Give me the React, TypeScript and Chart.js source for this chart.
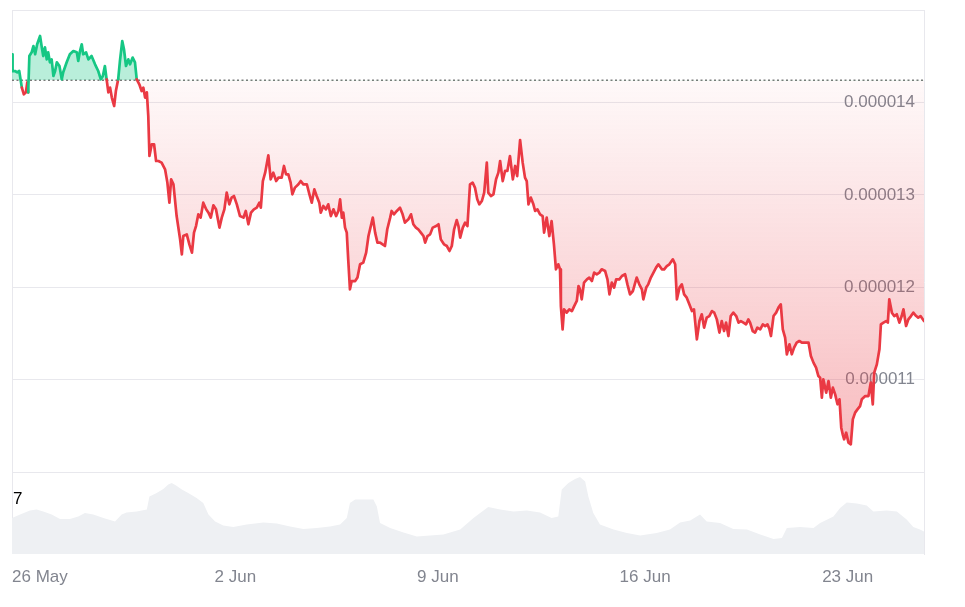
import React, { useEffect, useRef } from "react";
import { Chart, registerables } from "chart.js";

Chart.register(...registerables);

// Time axis: days since 26 May 00:00
const priceDays = [
  0.00,0.02,0.10,0.18,0.25,0.34,0.41,0.48,0.53,0.56,
  0.60,0.68,0.74,0.80,0.87,0.97,1.03,1.08,1.14,1.20,
  1.25,1.31,1.37,1.43,1.49,1.55,1.64,1.72,1.77,1.89,
  2.00,2.12,2.24,2.29,2.35,2.41,2.46,2.56,2.64,2.75,
  2.87,2.98,3.07,3.14,3.21,3.27,3.33,3.39,3.45,3.53,
  3.59,3.67,3.73,3.81,3.87,3.94,4.02,4.08,4.17,4.25,
  4.31,4.40,4.48,4.54,4.60,4.66,4.71,4.75,4.83,4.91,
  4.98,5.06,5.17,5.29,5.37,5.44,5.50,5.58,5.69,
  5.81,5.87,5.92,6.04,6.13,6.22,6.29,6.36,6.44,6.52,
  6.61,6.71,6.79,6.87,6.96,7.05,7.17,7.25,7.34,7.42,
  7.51,7.59,7.67,7.77,7.88,8.00,8.08,8.17,8.26,8.36,
  8.46,8.55,8.60,8.67,8.75,8.86,8.94,9.03,9.13,9.21,
  9.32,9.40,9.47,9.55,9.63,9.69,9.78,9.90,9.98,10.07,
  10.19,10.28,10.36,10.45,10.53,10.62,10.67,10.76,10.85,10.93,
  11.02,11.11,11.20,11.28,11.34,11.40,11.45,11.51,11.57,11.62,
  11.68,11.74,11.86,11.94,12.03,12.14,12.24,12.32,
  12.47,12.55,12.63,12.72,12.81,12.89,12.97,13.07,13.12,13.20,
  13.30,13.41,13.50,13.58,13.70,13.79,13.87,13.96,14.04,14.13,
  14.22,14.28,14.36,14.45,14.54,14.66,14.74,14.82,14.93,15.03,
  15.12,15.20,15.28,15.37,15.43,15.49,15.58,15.66,15.74,15.83,
  15.92,16.00,16.08,16.15,16.24,16.32,16.41,16.46,16.55,16.64,
  16.73,16.81,16.87,16.96,17.04,17.12,17.21,17.31,17.39,17.46,
  17.56,17.65,17.73,17.79,17.85,17.93,18.02,18.08,18.16,18.25,
  18.34,18.39,18.48,18.57,18.65,18.73,18.80,18.88,18.94,
  18.97,19.03,19.08,19.17,19.26,19.35,19.43,19.52,19.58,19.63,
  19.69,19.77,19.87,19.95,20.04,20.12,20.21,20.30,20.38,20.50,
  20.58,20.65,20.73,20.81,20.88,20.99,21.08,21.19,21.27,21.36,
  21.46,21.54,21.59,21.68,21.77,21.82,21.92,21.99,22.08,22.17,
  22.26,22.34,22.46,22.54,22.63,22.72,22.84,22.92,22.98,23.07,
  23.15,23.23,23.32,23.41,23.50,23.57,23.67,23.76,23.84,23.92,
  24.01,24.10,24.19,24.27,24.36,24.45,24.53,24.61,24.68,24.76,
  24.84,24.93,25.03,25.11,25.19,25.28,25.37,25.45,
  25.51,25.60,25.68,25.76,25.86,25.95,26.03,26.11,26.18,26.23,
  26.32,26.41,26.49,26.57,26.64,26.72,26.78,26.87,26.95,27.03,
  27.12,27.21,27.30,27.41,27.53,27.61,27.70,27.79,27.87,27.93,
  27.99,28.04,28.14,28.22,28.30,28.37,28.45,28.53,28.60,28.66,
  28.71,28.76,28.83,28.91,28.99,29.06,29.14,29.22,29.31,29.37,
  29.49,29.60,29.68,29.75,29.80,29.89,29.98,30.03,30.12,30.21,
  30.27,30.32,30.41,30.49,30.58,30.67,30.75,30.81,30.90,30.98,
  31.07,31.15,31.25,31.32,31.40,31.52,
];

// Price in units of 0.000001 USD
const priceValues = [
  14.521,14.337,14.340,14.326,14.340,14.160,14.088,14.109,14.218,14.109,
  14.502,14.542,14.610,14.521,14.629,14.719,14.596,14.502,14.596,14.466,
  14.542,14.434,14.466,14.286,14.340,14.434,14.394,14.250,14.326,14.434,
  14.521,14.556,14.542,14.448,14.556,14.629,14.521,14.542,14.466,14.502,
  14.412,14.340,14.250,14.286,14.394,14.250,14.109,14.160,14.052,13.961,
  14.123,14.250,14.448,14.664,14.575,14.394,14.466,14.412,14.485,14.434,
  14.250,14.196,14.123,14.160,14.052,14.109,13.853,13.420,13.547,13.547,
  13.366,13.366,13.348,13.276,13.132,12.915,13.168,13.114,12.770,
  12.518,12.356,12.554,12.572,12.464,12.374,12.591,12.662,12.789,12.753,
  12.915,12.843,12.807,12.753,12.886,12.843,12.645,12.753,12.843,13.024,
  12.897,12.970,12.987,12.897,12.770,12.753,12.825,12.681,12.807,12.843,
  12.861,12.915,12.861,13.149,13.240,13.427,13.168,13.240,13.149,13.186,
  13.186,13.312,13.222,13.222,13.132,13.005,13.078,13.114,13.149,13.114,
  13.114,13.005,12.915,13.059,12.987,12.915,12.807,12.879,12.843,12.897,
  12.770,12.843,12.770,12.825,12.951,12.753,12.807,12.645,12.591,12.302,
  11.977,12.067,12.067,12.104,12.248,12.266,12.374,12.554,
  12.753,12.591,12.483,12.483,12.464,12.446,12.627,12.753,12.825,12.789,
  12.825,12.861,12.789,12.699,12.735,12.789,12.681,12.645,12.627,12.591,
  12.554,12.483,12.554,12.572,12.645,12.662,12.681,12.518,12.464,12.446,
  12.392,12.446,12.627,12.727,12.662,12.537,12.645,12.699,12.662,13.114,
  13.132,13.078,12.951,12.897,12.933,13.024,13.348,13.024,12.987,13.005,
  13.168,13.240,13.366,13.149,13.258,13.258,13.420,13.168,13.312,13.203,
  13.593,13.348,13.186,13.149,12.897,12.970,12.897,12.825,12.843,12.789,
  12.770,12.591,12.753,12.554,12.716,12.464,12.194,12.248,12.194,
  11.796,11.544,11.761,11.725,11.761,11.742,11.796,11.851,12.013,11.977,
  11.869,12.050,12.085,12.104,12.067,12.158,12.140,12.158,12.194,12.175,
  12.085,11.923,12.050,11.996,12.085,12.085,12.121,12.140,12.031,11.923,
  11.959,12.050,12.104,12.031,11.977,11.869,11.996,12.031,12.104,12.158,
  12.212,12.248,12.194,12.194,12.229,12.248,12.302,12.248,11.869,11.996,
  12.031,11.923,11.887,11.815,11.742,11.761,11.436,11.634,11.707,11.563,
  11.671,11.688,11.742,11.725,11.652,11.509,11.634,11.526,11.617,11.472,
  11.688,11.725,11.688,11.617,11.634,11.617,11.598,11.652,
  11.617,11.526,11.509,11.563,11.544,11.598,11.580,11.598,11.544,11.472,
  11.688,11.725,11.779,11.815,11.544,11.454,11.274,11.382,11.274,11.346,
  11.400,11.418,11.400,11.400,11.400,11.255,11.184,11.130,11.039,11.021,
  10.805,11.003,10.859,10.985,10.805,10.913,10.841,10.733,10.787,10.480,
  10.408,10.354,10.426,10.318,10.300,10.570,10.643,10.678,10.714,10.787,
  10.822,10.822,10.967,10.733,11.076,11.165,11.328,11.598,11.617,11.634,
  11.617,11.869,11.725,11.688,11.707,11.617,11.688,11.761,11.580,11.652,
  11.688,11.725,11.688,11.671,11.688,11.634,
];

const volumeDays = [
  0,0.28,0.62,0.85,1.08,1.37,1.66,2.00,2.29,2.52,2.81,3.16,3.56,3.79,3.96,4.31,4.66,4.75,5.00,5.23,
  5.40,5.52,5.67,5.87,6.09,6.38,6.61,6.79,7.02,7.30,7.65,8.11,8.69,9.15,9.61,10.07,10.53,10.99,11.34,11.57,
  11.68,11.86,12.14,12.49,12.61,12.72,13.07,13.53,13.99,14.45,14.91,15.49,15.95,16.18,16.46,16.87,17.33,17.79,18.25,18.65,
  18.88,19.00,19.23,19.46,19.63,19.81,19.92,20.09,20.32,20.79,21.25,21.71,22.28,22.74,23.09,23.44,23.78,24.01,24.47,24.93,
  25.40,25.86,26.32,26.61,26.78,27.24,27.70,27.93,28.39,28.62,28.85,29.20,29.54,29.77,30.23,30.58,30.92,31.15,31.38,31.52,
];

// Trading volume, millions USD
const volumeValues = [
  18.0,19.7,21.8,22.2,21.3,19.7,17.5,17.5,18.8,20.5,19.7,18.0,16.3,19.7,20.8,21.3,22.2,28.8,30.5,32.5,
  34.7,35.5,34.2,32.2,30.5,28.0,25.5,19.7,16.3,14.2,13.5,14.7,15.8,15.2,13.8,12.5,13.0,13.8,14.7,18.0,
  25.5,27.2,27.2,27.2,23.8,15.5,13.0,10.8,8.8,9.2,9.7,12.2,18.0,20.5,23.5,22.2,21.3,21.8,20.8,18.0,
  18.8,32.2,35.5,37.5,38.5,36.3,28.8,20.5,14.7,12.2,10.5,9.2,10.5,12.2,15.8,16.8,19.7,16.3,15.5,12.5,
  12.2,9.7,7.5,8.0,13.0,13.5,13.0,15.5,18.8,23.0,25.8,25.2,24.2,21.3,21.8,21.3,17.2,13.5,12.2,11.3,
];

const baselinePrice = 14.239;
const xTickDays = [0, 7, 14, 21, 28];
const xTickLabels = ["26 May", "2 Jun", "9 Jun", "16 Jun", "23 Jun"];
const yTickValues = [10, 11, 12, 13, 14, 15];
const yLabelledValues = [11, 12, 13, 14];

const X_MAX = 31.52;
const Y_MIN = 9.113;
const Y_MAX = 15;
const VOLUME_AXIS_MAX = 272;

const GREEN = "#16c784";
const RED = "#ea3943";
const GRID = "#e8e8ed";
const TICK_COLOR = "#82858f";
const FONT = "'Liberation Sans', Arial, Helvetica, sans-serif";

export default function App() {
  const ref = useRef<HTMLCanvasElement>(null);

  useEffect(() => {
    const canvas = ref.current;
    if (!canvas) return;
    const chart = new Chart(canvas, {
      type: "line",
      data: {
        datasets: [
          {
            label: "Price",
            data: priceDays.map((d, i) => ({ x: d, y: priceValues[i] })),
            yAxisID: "y",
            borderColor: RED,
            borderWidth: 2.7,
            borderJoinStyle: "round",
            borderCapStyle: "round",
            pointRadius: 0,
            tension: 0,
            segment: {
              borderColor: (c: any) =>
                (c.p0.parsed.y + c.p1.parsed.y) / 2 >= baselinePrice ? GREEN : RED,
            },
            fill: { value: baselinePrice, above: "rgba(22,199,132,0.30)" },
            backgroundColor: (c: any) => {
              const ch = c.chart;
              const ys = ch.scales && ch.scales.y;
              if (!ch.chartArea || !ys) return "rgba(234,57,67,0.12)";
              const top = ys.getPixelForValue(baselinePrice);
              const bottom = ys.getPixelForValue(10);
              const g = ch.ctx.createLinearGradient(0, top, 0, bottom);
              g.addColorStop(0, "rgba(234,57,67,0.03)");
              g.addColorStop(1, "rgba(234,57,67,0.36)");
              return g;
            },
          } as any,
          {
            label: "Start",
            data: [
              { x: 0, y: baselinePrice },
              { x: X_MAX, y: baselinePrice },
            ],
            yAxisID: "y",
            borderColor: "#7a7a7a",
            borderWidth: 1.5,
            borderDash: [2, 2.5],
            pointRadius: 0,
            fill: false,
          },
          {
            label: "Volume",
            data: volumeDays.map((d, i) => ({ x: d, y: volumeValues[i] })),
            yAxisID: "y2",
            borderWidth: 0,
            borderColor: "rgba(0,0,0,0)",
            backgroundColor: "#eef0f3",
            fill: "origin",
            pointRadius: 0,
            tension: 0,
          },
        ],
      },
      options: {
        animation: false,
        responsive: false,
        events: [],
        layout: { padding: { left: 12, right: 41, top: 10, bottom: 5.6 } },
        plugins: { legend: { display: false }, tooltip: { enabled: false } },
        scales: {
          x: {
            type: "linear",
            min: 0,
            max: X_MAX,
            afterBuildTicks: (axis: any) => {
              axis.ticks = xTickDays.map((v) => ({ value: v }));
            },
            afterFit: (axis: any) => {
              axis.paddingLeft = 0;
              axis.paddingRight = 0;
            },
            ticks: {
              align: "start",
              autoSkip: false,
              maxRotation: 0,
              minRotation: 0,
              padding: 13.5,
              color: TICK_COLOR,
              font: { family: FONT, size: 17 },
              callback: (_v: any, i: number) => xTickLabels[i],
            },
            grid: {
              drawTicks: false,
              color: (c: any) => (c.tick && c.tick.value === 0 ? GRID : "rgba(0,0,0,0)"),
            },
            border: { display: false },
          },
          y: {
            position: "right",
            min: Y_MIN,
            max: Y_MAX,
            afterBuildTicks: (axis: any) => {
              axis.ticks = yTickValues.map((v) => ({ value: v }));
            },
            afterFit: (axis: any) => {
              axis.paddingTop = 0;
              axis.paddingBottom = 0;
              axis.width = 0;
            },
            ticks: {
              mirror: true,
              padding: -9,
              color: TICK_COLOR,
              font: { family: FONT, size: 17 },
              callback: (v: any) =>
                yLabelledValues.includes(Number(v)) ? (Number(v) * 1e-6).toFixed(6) : "",
            },
            grid: { drawTicks: false, color: GRID },
            border: { display: true, color: GRID },
          },
          y2: {
            display: false,
            position: "left",
            min: 0,
            max: VOLUME_AXIS_MAX,
          },
        },
      } as any,
    });
    return () => chart.destroy();
  }, []);

  return (
    <div style={{ position: "fixed", left: 0, top: 0, width: 965, height: 607, background: "#fff" }}>
      <canvas ref={ref} width={965} height={607} style={{ display: "block" }} />
      <div
        style={{
          position: "absolute",
          left: 13,
          top: 489,
          fontFamily: FONT,
          fontSize: 17,
          lineHeight: "20px",
          color: "#000",
        }}
      >
        7
      </div>
    </div>
  );
}
